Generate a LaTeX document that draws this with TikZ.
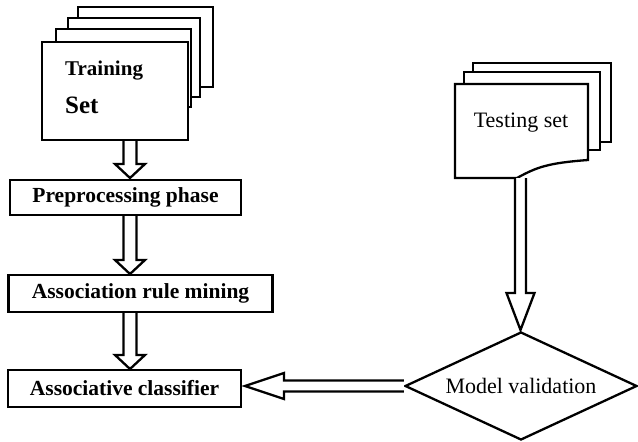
\documentclass[tikz,border=0pt]{standalone}
\usepackage{fontspec}
\setmainfont{Liberation Serif}
\usetikzlibrary{shapes.geometric,calc}
\tikzset{
  line/.style={line width=2.3pt,line join=miter},
  page/.style={line, fill=white},
  boxnode/.style={line, draw, fill=white, rectangle, inner sep=0pt, font=\bfseries\fontsize{21.5}{25}\selectfont},
  hollow/.style={line, fill=white}
}
\newcommand\downhollow[5]{%
  \draw[hollow] let \p1=(#1), \p2=(#2) in
    (\x1-#3pt,\y1) -- (\x1-#3pt,\y2+#5pt) -- (\x1-#4pt,\y2+#5pt) -- (\x1,\y2)
    -- (\x1+#4pt,\y2+#5pt) -- (\x1+#3pt,\y2+#5pt) -- (\x1+#3pt,\y1);}
\newcommand\lefthollow[5]{%
  \draw[hollow] let \p1=(#1), \p2=(#2) in
    (\x1,\y1+#3pt) -- (\x2+#5pt,\y1+#3pt) -- (\x2+#5pt,\y1+#4pt) -- (\x2,\y1)
    -- (\x2+#5pt,\y1-#4pt) -- (\x2+#5pt,\y1-#3pt) -- (\x1,\y1-#3pt);}
\begin{document}
\begin{tikzpicture}[x=1pt,y=-1pt]
\useasboundingbox (0,0) rectangle (638,442);
% training set pages
\draw[page] (78,7) rectangle (213,87);
\draw[page] (68,18) rectangle (200,97);
\draw[page] (56,29) rectangle (191,107);
\node[boxnode, minimum width=146pt, minimum height=98pt] (tr) at (115,91) {};
\node[anchor=base west, inner sep=0pt, font=\bfseries\fontsize{21}{24}\selectfont] (trt1) at (65,75) {Training};
\node[anchor=base west, inner sep=0pt, font=\bfseries\fontsize{25}{30}\selectfont] (trt2) at (65,113) {Set};
% left boxes
\node[boxnode, minimum width=231pt, minimum height=35pt] (pp) at (125.5,197.5) {Preprocessing phase};
\node[boxnode, minimum width=264pt, minimum height=37pt] (arm) at (140.5,293.5) {Association rule mining};
\node[boxnode, minimum width=233pt, minimum height=37pt] (cl) at (124.5,388.5) {Associative classifier};
% testing set pages
\draw[page] (473,63) rectangle (611,142);
\draw[page] (464,72) rectangle (600,150);
\draw[page] (455,84) -- (588,84) -- (588,160) .. controls (548,163) and (537,167) .. (517,178) -- (455,178) -- cycle;
\node[inner sep=0pt, font=\fontsize{22}{26}\selectfont] (ts) at (521,123) {Testing set};
\coordinate (tsb) at (520.5,178);
% diamond
\node[line, draw, diamond, aspect=2.15, inner sep=0pt, minimum width=232pt, minimum height=108pt,
      font=\fontsize{22}{26}\selectfont] (mv) at (521,386) {Model validation};
% arrow anchors
\coordinate (ax) at (130,0);
\coordinate (tipa) at (130,178);
\coordinate (tipb) at (130,274);
\coordinate (tipc) at (130,369);
\coordinate (tipd) at (520.5,330);
\coordinate (tipe) at (245,386);
\downhollow{ax |- tr.south}{tipa}{6.5}{15}{14}
\downhollow{ax |- pp.south}{tipb}{6.5}{15}{14}
\downhollow{ax |- arm.south}{tipc}{6.5}{15}{14}
\downhollow{tsb}{tipd}{5.5}{14}{37}
\lefthollow{mv.west}{tipe}{5.5}{13}{39}
\end{tikzpicture}
\end{document}
